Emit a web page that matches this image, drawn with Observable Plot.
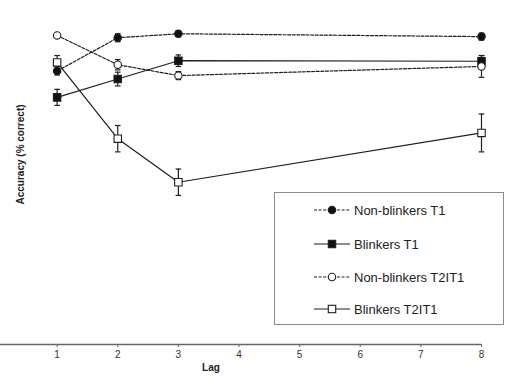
<!DOCTYPE html>
<html>
<head>
<meta charset="utf-8">
<script src="https://cdn.jsdelivr.net/npm/d3@7"></script>
<script src="https://cdn.jsdelivr.net/npm/@observablehq/plot@0.6"></script>
<style>
  html, body { margin: 0; padding: 0; background: #fff; }
  #chart { position: relative; width: 507px; height: 376px; overflow: hidden; font-family: "Liberation Sans", Arial, sans-serif; }
  #legend { position: absolute; left: 274px; top: 192px; width: 230px; height: 133px; border: 1px solid #8c8c8c; box-sizing: border-box; background: #fff; }
  .item { position: absolute; left: 39px; height: 16px; display: flex; align-items: center; font-size: 13px; color: #222; white-space: nowrap; }
  .item svg { margin-right: 3px; }
</style>
</head>
<body>
<div id="chart"></div>
<script>
// Lags at which T1 / T2|T1 accuracy was measured
const lags = [1, 2, 3, 8];
const lagTicks = [1, 2, 3, 4, 5, 6, 7, 8];

const seriesNames = ["Non-blinkers T1", "Blinkers T1", "Non-blinkers T2IT1", "Blinkers T2IT1"];

// Mean accuracy (% correct) per lag
const nonBlinkersT1 = [87.7, 93.5, 94.2, 93.7];
const blinkersT1 = [83.1, 86.3, 89.5, 89.4];
const nonBlinkersT2IT1 = [93.9, 88.8, 86.9, 88.5];
const blinkersT2IT1 = [89.2, 75.9, 68.3, 76.9];

// Standard errors
const nonBlinkersT1Se = [0.7, 0.7, 0.5, 0.6];
const blinkersT1Se = [1.4, 1.2, 1.0, 1.0];
const nonBlinkersT2IT1Se = [0.3, 0.9, 0.7, 1.9];
const blinkersT2IT1Se = [1.2, 2.3, 2.3, 3.3];

const means = [nonBlinkersT1, blinkersT1, nonBlinkersT2IT1, blinkersT2IT1];
const errors = [nonBlinkersT1Se, blinkersT1Se, nonBlinkersT2IT1Se, blinkersT2IT1Se];

// Non-blinkers: dashed lines with circles; blinkers: solid lines with squares.
// T1: filled markers; T2|T1: open markers.
const look = {
  "Non-blinkers T1":    {dash: "3,1.6", symbol: "circle", fill: "#111"},
  "Blinkers T1":        {dash: null,    symbol: "square", fill: "#111"},
  "Non-blinkers T2IT1": {dash: "3,1.6", symbol: "circle", fill: "#fff"},
  "Blinkers T2IT1":     {dash: null,    symbol: "square", fill: "#fff"}
};

const rows = seriesNames.flatMap((s, i) =>
  lags.map((lag, j) => ({series: s, lag, acc: means[i][j], se: errors[i][j]}))
);

// Short horizontal stroke used as error-bar cap
const cap = {draw(ctx, size) { const w = Math.sqrt(size / Math.PI); ctx.moveTo(-w, 0); ctx.lineTo(w, 0); }};

const ink = "#1e1e1e";
const marks = [
  Plot.ruleY([40], {stroke: "#666", strokeWidth: 1.5}),
  Plot.axisX({ticks: lagTicks, tickSize: 3, tickPadding: 3, tickFormat: d => String(d), label: null, stroke: "#666", fill: "#333", fontSize: 10}),
  Plot.text(["Lag"], {frameAnchor: "bottom", dx: -30, dy: 26, fontWeight: "bold", fontSize: 10, fill: "#222"}),
  Plot.text(["Accuracy (% correct)"], {frameAnchor: "left", rotate: -90, dx: 20, dy: 32, fontWeight: "bold", fontSize: 10, fill: "#222"})
];

for (const s of seriesNames) {
  const data = rows.filter(d => d.series === s);
  marks.push(Plot.line(data, {x: "lag", y: "acc", stroke: ink, strokeWidth: 1.2, strokeDasharray: look[s].dash}));
}
marks.push(
  Plot.ruleX(rows, {x: "lag", y1: d => d.acc - d.se, y2: d => d.acc + d.se, stroke: ink, strokeWidth: 1.2}),
  Plot.dot(rows, {x: "lag", y: d => d.acc + d.se, symbol: cap, r: 2.8, stroke: ink, strokeWidth: 1.2, fill: "none"}),
  Plot.dot(rows, {x: "lag", y: d => d.acc - d.se, symbol: cap, r: 2.8, stroke: ink, strokeWidth: 1.2, fill: "none"})
);
for (const s of seriesNames) {
  const data = rows.filter(d => d.series === s);
  marks.push(Plot.dot(data, {x: "lag", y: "acc", symbol: look[s].symbol, r: look[s].symbol === "square" ? 4.2 : 3.7, fill: look[s].fill, stroke: ink, strokeWidth: 1.1}));
}

const chart = Plot.plot({
  width: 507,
  height: 376,
  marginTop: 0,
  marginLeft: 0,
  marginRight: 26,
  marginBottom: 32,
  x: {domain: [0, 8], range: [-4, 481], axis: null},
  y: {domain: [40, 100], axis: null},
  style: {fontFamily: "'Liberation Sans', Arial, sans-serif", fontSize: "10px", background: "#fff", overflow: "hidden"},
  marks
});

const root = document.getElementById("chart");
root.appendChild(chart);

// Legend box drawn inside the plotting area
const legend = document.createElement("div");
legend.id = "legend";
const centers = [17, 51, 84, 116];
seriesNames.forEach((s, i) => {
  const item = document.createElement("div");
  item.className = "item";
  item.style.top = (centers[i] - 8) + "px";
  const L = look[s];
  const mk = L.symbol === "circle"
    ? `<circle cx="18" cy="8" r="3.7" fill="${L.fill}" stroke="${ink}" stroke-width="1.1"/>`
    : `<rect x="14.3" y="4.3" width="7.4" height="7.4" fill="${L.fill}" stroke="${ink}" stroke-width="1.1"/>`;
  item.innerHTML = `<svg width="37" height="16"><line x1="0" x2="36" y1="8" y2="8" stroke="${ink}" stroke-width="1.2" ${L.dash ? `stroke-dasharray="${L.dash}"` : ""}/>${mk}</svg><span>${s}</span>`;
  legend.appendChild(item);
});
root.appendChild(legend);
</script>
</body>
</html>
